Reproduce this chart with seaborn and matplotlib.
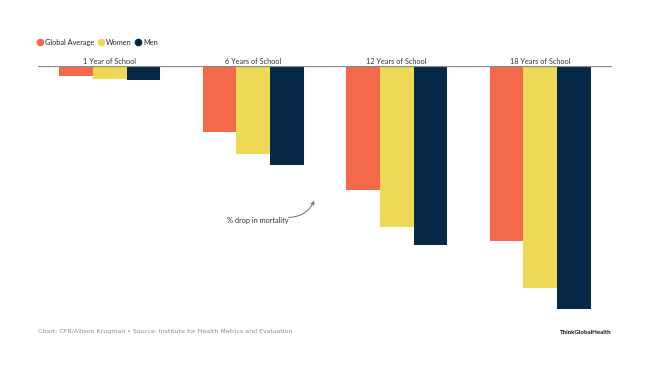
import pandas as pd
import matplotlib.pyplot as plt
import seaborn as sns
from matplotlib.lines import Line2D

# --- data (percent drop in mortality) ---
groups = ["1 Year of School", "6 Years of School", "12 Years of School", "18 Years of School"]
series = ["Global Average", "Women", "Men"]
global_avg = [1.9, 12.9, 24.1, 34.0]
women = [2.5, 17.1, 31.3, 43.0]
men = [2.7, 19.3, 34.8, 47.2]

colors = {"Global Average": "#f4694a", "Women": "#edd955", "Men": "#06294a"}

rows = []
for name, vals in zip(series, [global_avg, women, men]):
    for g, v in zip(groups, vals):
        rows.append({"Group": g, "Series": name, "Drop": -v})
df = pd.DataFrame(rows)

sns.set_style("white")
plt.rcParams["font.family"] = ["Lato", "DejaVu Sans"]

W, H = 650, 377
fig = plt.figure(figsize=(W / 100, H / 100), dpi=100)
ax = fig.add_axes([38 / W, 1 - 320 / H, (612 - 38) / W, (320 - 66) / H])

sns.barplot(data=df, x="Group", y="Drop", hue="Series", hue_order=series,
            order=groups, palette=colors, width=0.705, gap=0,
            linewidth=0, saturation=1, legend=False, ax=ax)

ax.set_xlim(-0.5, 3.5)
ax.set_ylim(-49.3, 0)
ax.axhline(0, color="#8a8a8a", lw=0.9, zorder=5)
for s in ax.spines.values():
    s.set_visible(False)
ax.set_xticks([])
ax.set_yticks([])
ax.set_xlabel("")
ax.set_ylabel("")

# group labels above the baseline
for i, g in enumerate(groups):
    ax.text(i, 0.25, g, ha="center", va="bottom", fontsize=5.3, color="#333333")

# annotation
ax.text(1.03, -29.9, "% drop in mortality", fontsize=5.3, color="#333333",
        ha="center", va="center")
ax.annotate("", xy=(1.425, -26.2), xytext=(1.245, -29.4),
            arrowprops=dict(arrowstyle="->", color="#555555", lw=0.6,
                            connectionstyle="arc3,rad=0.3",
                            shrinkA=0, shrinkB=0, mutation_scale=6))

# legend
handles = [Line2D([0], [0], marker="o", linestyle="", markersize=5.5,
                  markerfacecolor=colors[s], markeredgewidth=0) for s in series]
fig.legend(handles, series, loc="center left", bbox_to_anchor=(33 / W, 1 - 42.5 / H),
           ncol=3, frameon=False, fontsize=5.3, handletextpad=0.25,
           columnspacing=0.35, borderaxespad=0, handlelength=1.0)

# footer
fig.text(38 / W, 1 - 332 / H,
         "Chart: CFR/Allison Krugman \u2022 Source: Institute for Health Metrics and Evaluation",
         fontsize=4.5, color="#8c8c8c", ha="left", va="center", family="DejaVu Sans")
fig.text(612 / W, 1 - 332 / H, "ThinkGlobalHealth", fontsize=4.4, color="#111111",
         ha="right", va="center", fontweight="bold")

fig.savefig("out.png", dpi=100)
